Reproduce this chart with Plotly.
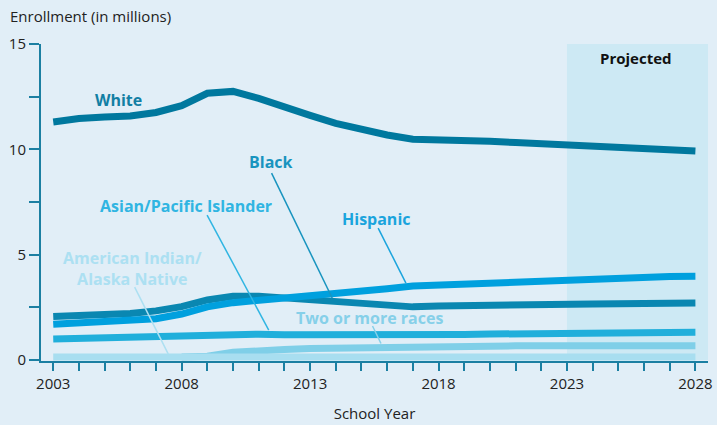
import plotly.graph_objects as go

years = list(range(2003, 2029))
years_multi = list(range(2008, 2029))

white = [11.30, 11.46, 11.53, 11.58, 11.75, 12.07, 12.66, 12.75, 12.42, 11.99, 11.61, 11.23,
         10.92, 10.68, 10.48, 10.47, 10.45, 10.38, 10.32, 10.27, 10.21, 10.16, 10.12, 10.08, 10.01, 9.92]
black = [2.06, 2.10, 2.15, 2.21, 2.33, 2.53, 2.85, 3.02, 3.03, 2.95, 2.86, 2.72,
         2.63, 2.55, 2.52, 2.56, 2.59, 2.61, 2.62, 2.63, 2.64, 2.66, 2.67, 2.68, 2.69, 2.70]
hispanic = [1.69, 1.76, 1.81, 1.87, 1.96, 2.18, 2.52, 2.72, 2.82, 2.93, 3.03, 3.13,
            3.25, 3.38, 3.51, 3.56, 3.58, 3.65, 3.70, 3.72, 3.75, 3.81, 3.84, 3.89, 3.96, 3.97]
asian = [1.00, 1.03, 1.05, 1.08, 1.12, 1.20, 1.23, 1.23, 1.22, 1.20, 1.19, 1.19,
         1.19, 1.20, 1.21, 1.20, 1.21, 1.23, 1.25, 1.26, 1.27, 1.28, 1.28, 1.29, 1.30, 1.31]
aian = [0.14] * 26
multi = [0.14, 0.18, 0.36, 0.46, 0.50, 0.54, 0.56, 0.58, 0.60, 0.67, 0.67, 0.67, 0.67,
         0.67, 0.67, 0.67, 0.67, 0.67, 0.67, 0.67, 0.67]

y_tickvals = [0, 2.5, 5, 7.5, 10, 12.5, 15]
y_ticktext = ["0", "", "5", "", "10", "", "15"]
x_label_years = [2003, 2008, 2013, 2018, 2023, 2028]

X_MIN, X_MAX = 2002.524, 2028.49
Y_MIN, Y_MAX = -0.05, 15
PROJ_START = 2023

FONT = "Open Sans"
AXIS_COLOR = "#1b7fa2"

fig = go.Figure()

series = [
    ("Two or more races", years_multi, multi, "#7fcfe8"),
    ("American Indian/Alaska Native", years, aian, "#a8def0"),
    ("Asian/Pacific Islander", years, asian, "#20afdb"),
    ("Black", years, black, "#0a87b1"),
    ("Hispanic", years, hispanic, "#00a0de"),
    ("White", years, white, "#00789e"),
]
for name, xs, ys, col in series:
    fig.add_trace(go.Scatter(x=xs, y=ys, mode="lines", name=name,
                             line=dict(color=col, width=7), showlegend=False,
                             hoverinfo="skip"))

# projected shading
fig.add_shape(type="rect", xref="x", yref="y", x0=PROJ_START, x1=X_MAX, y0=0, y1=Y_MAX,
              fillcolor="#cde9f4", line_width=0, layer="below")

# labels
labels = [
    ("White", 2005.54, 12.34, "#127fa4", None),
    ("Black", 2011.47, 9.40, "#1894bf", (2011.50, 8.87, 2013.86, 2.94)),
    ("Asian/Pacific Islander", 2008.16, 7.33, "#30b5e2", (2008.99, 6.88, 2011.39, 1.42)),
    ("Hispanic", 2015.57, 6.69, "#1aa4dd", (2015.65, 6.26, 2016.73, 3.65)),
    ("American Indian/<br>Alaska Native", 2006.07, 4.32, "#ace0f2", (2006.17, 3.46, 2007.48, 0.28)),
    ("Two or more races", 2015.30, 1.97, "#86d0e9", (2015.43, 1.61, 2015.76, 0.78)),
]
for text, x, y, col, leader in labels:
    fig.add_annotation(x=x, y=y, xref="x", yref="y", text="<b>" + text + "</b>",
                       showarrow=False, font=dict(family=FONT, size=16, color=col),
                       xanchor="center", yanchor="middle")
    if leader:
        fig.add_shape(type="line", xref="x", yref="y", x0=leader[0], y0=leader[1],
                      x1=leader[2], y1=leader[3], line=dict(color=col, width=1.5))

fig.add_annotation(x=2025.70, y=14.33, xref="x", yref="y", text="<b>Projected</b>",
                   showarrow=False, font=dict(family=FONT, size=15, color="#111111"))

fig.add_annotation(x=-0.0488, y=1.088, xref="paper", yref="paper",
                   text="Enrollment (in millions)", showarrow=False,
                   xanchor="left", yanchor="middle",
                   font=dict(family=FONT, size=15, color="#222222"))

fig.update_layout(
    width=717, height=425,
    margin=dict(l=41, r=5, t=44, b=64),
    paper_bgcolor="#e1eef7",
    plot_bgcolor="rgba(0,0,0,0)",
    font=dict(family=FONT, color="#222222", size=15),
    xaxis=dict(range=[X_MIN, X_MAX], showgrid=False, zeroline=False,
               showline=True, linecolor=AXIS_COLOR, linewidth=2,
               ticks="outside", ticklen=8, tickwidth=1.5, tickcolor=AXIS_COLOR,
               tickvals=years,
               ticktext=[str(y) if y in x_label_years else "" for y in years],
               tickfont=dict(family=FONT, size=15, color="#222222"),
               title=dict(text="School Year", standoff=16,
                          font=dict(family=FONT, size=15, color="#222222"))),
    yaxis=dict(range=[Y_MIN, Y_MAX], showgrid=False, zeroline=False,
               showline=True, linecolor=AXIS_COLOR, linewidth=2,
               ticks="outside", ticklen=10, tickwidth=1.5, tickcolor=AXIS_COLOR,
               tickvals=y_tickvals, ticktext=y_ticktext,
               tickfont=dict(family=FONT, size=15, color="#222222")),
)

fig.write_html("out.html", config={"displayModeBar": False},
               post_script="document.body.style.margin='0';")
